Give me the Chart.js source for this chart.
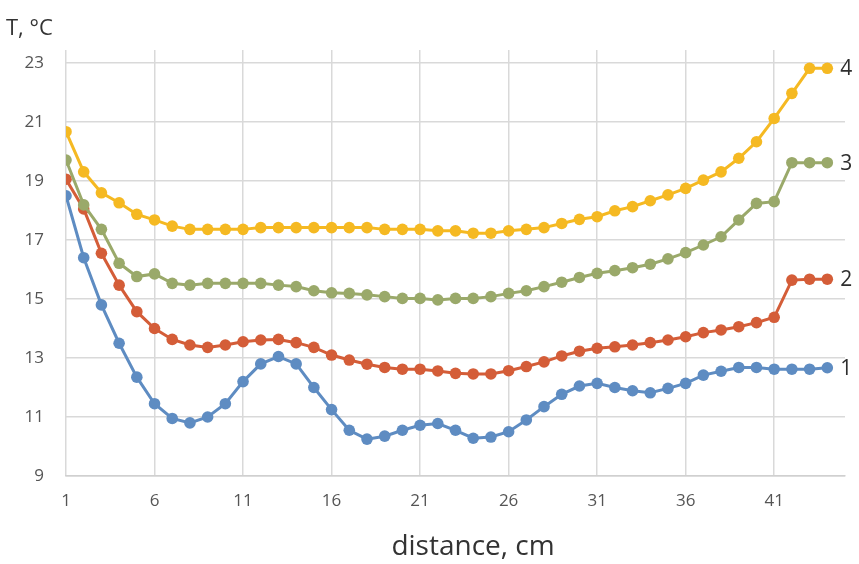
<!DOCTYPE html>
<html>
<head>
<meta charset="utf-8">
<script src="https://cdn.jsdelivr.net/npm/chart.js@4/dist/chart.umd.min.js"></script>
<style>
  html, body { margin: 0; padding: 0; background: #ffffff; }
  #wrap { width: 859px; height: 564px; position: relative; }
</style>
</head>
<body>
<div id="wrap"><canvas id="c" width="859" height="564"></canvas></div>
<script>
// Measurement positions along the sample, cm
const distances = [
  1, 2, 3, 4, 5, 6, 7, 8, 9, 10, 11, 12, 13, 14, 15, 16, 17, 18, 19, 20, 21, 22,
  23, 24, 25, 26, 27, 28, 29, 30, 31, 32, 33, 34, 35, 36, 37, 38, 39, 40, 41, 42, 43, 44
];

// Temperature profiles, °C
const series1 = [
  18.5, 16.4, 14.8, 13.5, 12.35, 11.45, 10.95, 10.8, 11.0, 11.45, 12.2, 12.8, 13.05, 12.8,
  12.0, 11.25, 10.55, 10.25, 10.35, 10.55, 10.72, 10.78, 10.55, 10.28, 10.32, 10.5, 10.9,
  11.35, 11.77, 12.05, 12.14, 12.0, 11.89, 11.82, 11.97, 12.14, 12.42, 12.55, 12.68, 12.68,
  12.62, 12.62, 12.62, 12.67
];
const series2 = [
  19.06, 18.05, 16.55, 15.47, 14.57, 14.0, 13.63, 13.44, 13.36, 13.44, 13.55, 13.61, 13.63,
  13.52, 13.36, 13.1, 12.93, 12.79, 12.68, 12.62, 12.62, 12.56, 12.48, 12.46, 12.46, 12.57,
  12.71, 12.87, 13.07, 13.23, 13.33, 13.38, 13.44, 13.52, 13.61, 13.72, 13.86, 13.95, 14.06,
  14.2, 14.38, 15.64, 15.67, 15.67
];
const series3 = [
  19.71, 18.19, 17.36, 16.21, 15.76, 15.85, 15.53, 15.47, 15.53, 15.53, 15.53, 15.53, 15.47,
  15.42, 15.28, 15.21, 15.19, 15.14, 15.08, 15.02, 15.02, 14.97, 15.02, 15.02, 15.08, 15.19,
  15.28, 15.42, 15.57, 15.73, 15.87, 15.96, 16.06, 16.18, 16.36, 16.57, 16.83, 17.11, 17.68,
  18.24, 18.3, 19.62, 19.62, 19.62
];
const series4 = [
  20.67, 19.31, 18.6, 18.26, 17.87, 17.68, 17.47, 17.36, 17.36, 17.36, 17.36, 17.42, 17.42,
  17.42, 17.42, 17.42, 17.42, 17.42, 17.36, 17.36, 17.36, 17.31, 17.31, 17.23, 17.23, 17.31,
  17.36, 17.42, 17.56, 17.7, 17.79, 17.99, 18.13, 18.33, 18.53, 18.75, 19.03, 19.31, 19.77,
  20.33, 21.12, 21.97, 22.82, 22.82
];

const seriesNames = ['1', '2', '3', '4'];
const seriesColors = ['#5e8cc2', '#d45d38', '#9aa96a', '#f5b922'];
const xTickValues = [1, 6, 11, 16, 21, 26, 31, 36, 41];
const yTickValues = [9, 11, 13, 15, 17, 19, 21, 23];
const yTitle = 'T, °C';
const xTitle = 'distance, cm';

const allSeries = [series1, series2, series3, series4];

const datasets = allSeries.map((vals, i) => ({
  label: seriesNames[i],
  data: distances.map((d, k) => ({ x: d, y: vals[k] })),
  borderColor: seriesColors[i],
  backgroundColor: seriesColors[i],
  pointBackgroundColor: seriesColors[i],
  pointBorderColor: seriesColors[i],
  pointBorderWidth: 0,
  pointRadius: 5.8,
  borderWidth: 3,
  tension: 0,
  order: allSeries.length - i
}));

const fontFamily = '"Open Sans", Lato, sans-serif';
const tickFont = { family: fontFamily, size: 17 };
const gridColor = '#d9d9d9';

// Series numbers beside the last point, plus the axis captions
const annotate = {
  id: 'annotate',
  afterDatasetsDraw(chart) {
    const ctx = chart.ctx;
    ctx.save();
    ctx.fillStyle = '#2e2e2e';
    ctx.font = '21px ' + fontFamily;
    ctx.textAlign = 'left';
    ctx.textBaseline = 'middle';
    chart.data.datasets.forEach((ds, i) => {
      const meta = chart.getDatasetMeta(i);
      const last = meta.data[meta.data.length - 1];
      ctx.fillText(ds.label, last.x + 13, last.y + 1);
    });

    ctx.fillStyle = '#333333';
    ctx.font = '22px ' + fontFamily;
    ctx.fillText(yTitle, 6, 29);

    ctx.textAlign = 'center';
    ctx.font = '28px ' + fontFamily;
    ctx.fillText(xTitle, 473, 547);
    ctx.restore();
  }
};

new Chart(document.getElementById('c'), {
  type: 'line',
  data: { datasets },
  options: {
    responsive: false,
    animation: false,
    devicePixelRatio: 1,
    layout: { padding: { top: 50, right: 14, bottom: 0, left: 0 } },
    plugins: {
      legend: { display: false },
      tooltip: { enabled: false }
    },
    scales: {
      x: {
        type: 'linear',
        min: 1,
        max: 45,
        afterBuildTicks(scale) { scale.ticks = xTickValues.map(v => ({ value: v })); },
        afterFit(scale) { scale.height = 88; },
        grid: { color: gridColor, lineWidth: 1.5, drawTicks: false },
        border: { display: true, color: '#d0d0d0', width: 1.5 },
        ticks: { font: tickFont, color: '#555555', padding: 15, maxRotation: 0 }
      },
      y: {
        type: 'linear',
        min: 9,
        max: 23.44,
        afterBuildTicks(scale) { scale.ticks = yTickValues.map(v => ({ value: v })); },
        afterFit(scale) { scale.width = 66; },
        grid: { color: gridColor, lineWidth: 1.5, drawTicks: false },
        border: { display: false },
        ticks: { font: tickFont, color: '#555555', padding: 22 }
      }
    }
  },
  plugins: [annotate]
});
</script>
</body>
</html>
